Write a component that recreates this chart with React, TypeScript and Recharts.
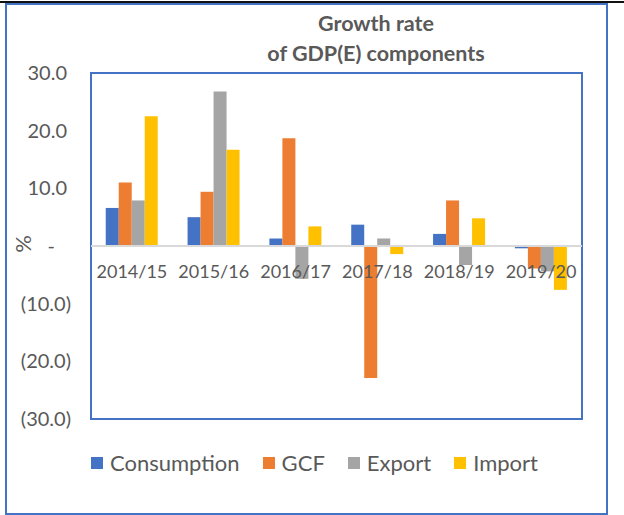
import { BarChart, Bar, XAxis, YAxis, ReferenceLine, ReferenceArea } from "recharts";

const years = ["2014/15", "2015/16", "2016/17", "2017/18", "2018/19", "2019/20"];
const consumption = [6.6, 5.0, 1.3, 3.7, 2.1, -0.4];
const gcf = [11.0, 9.4, 18.7, -22.9, 7.9, -3.9];
const exportGrowth = [7.9, 26.8, -5.7, 1.3, -3.3, -4.4];
const importGrowth = [22.5, 16.7, 3.4, -1.4, 4.8, -7.6];
const yTicks = [-30, -20, -10, 0, 10, 20, 30];

const seriesNames = ["Consumption", "GCF", "Export", "Import"];
const seriesColors = ["#4472C4", "#ED7D31", "#A5A5A5", "#FFC000"];
const seriesValues = [consumption, gcf, exportGrowth, importGrowth];

const data = years.map((year, i) => {
  const row: Record<string, string | number> = { year };
  seriesNames.forEach((name, s) => {
    row[name] = seriesValues[s][i];
  });
  return row;
});

const FONT = "Lato, 'Noto Sans', sans-serif";
const TEXT = "#595959";
const PLOT_H = 346;

const fmt = (v: number) => {
  if (v === 0) return "-";
  const s = Math.abs(v).toFixed(1);
  return v < 0 ? `(${s})` : s;
};

const YTick = (props: any) => {
  const { x, y, payload } = props;
  const v = payload.value as number;
  // accounting format: positives leave room for the closing paren
  const shift = v === 0 ? 36 : v < 0 ? 20 : 24;
  return (
    <text
      x={x - shift}
      y={y}
      dy="0.35em"
      textAnchor="end"
      fontSize={20}
      fontFamily={FONT}
      fill={TEXT}
    >
      {fmt(v)}
    </text>
  );
};

// labels sit just under the zero line, not at the bottom of the plot
const XTick = (props: any) => {
  const { x, y, payload } = props;
  return (
    <text
      x={x}
      y={y - PLOT_H / 2 + 26}
      dy="0.35em"
      textAnchor="middle"
      fontSize={18}
      fontFamily={FONT}
      fill={TEXT}
    >
      {payload.value}
    </text>
  );
};

export default function App() {
  return (
    <div
      style={{
        position: "absolute",
        left: 0,
        top: 0,
        width: 624,
        height: 515,
        background: "#fff",
        fontFamily: FONT,
      }}
    >
      <div
        style={{
          position: "absolute",
          left: 0,
          top: 1,
          width: 624,
          height: 2,
          background: "#111",
        }}
      />
      <div
        style={{
          position: "absolute",
          left: 5,
          top: 3,
          width: 599,
          height: 508,
          border: "2px solid #4472C4",
        }}
      />
      <div
        style={{
          position: "absolute",
          left: 176,
          top: 8,
          width: 400,
          textAlign: "center",
          fontWeight: 700,
          fontSize: 21.5,
          lineHeight: "30px",
          color: TEXT,
        }}
      >
        Growth rate
        <br />
        of GDP(E) components
      </div>
      <div
        style={{
          position: "absolute",
          left: 22,
          top: 244,
          transform: "translate(-50%, -50%) rotate(-90deg)",
          fontSize: 22,
          color: TEXT,
          whiteSpace: "nowrap",
        }}
      >
        %
      </div>
      <div style={{ position: "absolute", left: 0, top: 0 }}>
        <BarChart
          width={624}
          height={515}
          data={data}
          margin={{ top: 73, right: 42, bottom: 66, left: 31 }}
          barCategoryGap="18%"
          barGap={0}
        >
          <XAxis
            dataKey="year"
            height={30}
            axisLine={false}
            tickLine={false}
            tickSize={0}
            tickMargin={0}
            interval={0}
            tick={XTick}
          />
          <YAxis
            width={60}
            domain={[-30, 30]}
            ticks={yTicks}
            axisLine={false}
            tickLine={false}
            tickSize={0}
            tickMargin={0}
            tick={YTick}
          />
          {seriesNames.map((name, s) => (
            <Bar
              key={name}
              dataKey={name}
              fill={seriesColors[s]}
              isAnimationActive={false}
            />
          ))}
          <ReferenceLine y={0} stroke="#D9D9D9" strokeWidth={2} />
          <ReferenceArea
            y1={-30}
            y2={30}
            fill="none"
            stroke="#4472C4"
            strokeWidth={2}
            ifOverflow="visible"
          />
        </BarChart>
      </div>
      <div
        style={{
          position: "absolute",
          left: 91,
          top: 451,
          display: "flex",
          alignItems: "center",
          gap: 23,
          fontSize: 22,
          color: TEXT,
          lineHeight: "24px",
        }}
      >
        {seriesNames.map((name, s) => (
          <div key={name} style={{ display: "flex", alignItems: "center" }}>
            <span
              style={{
                display: "inline-block",
                width: 12,
                height: 12,
                background: seriesColors[s],
                marginRight: 7,
              }}
            />
            {name}
          </div>
        ))}
      </div>
    </div>
  );
}
